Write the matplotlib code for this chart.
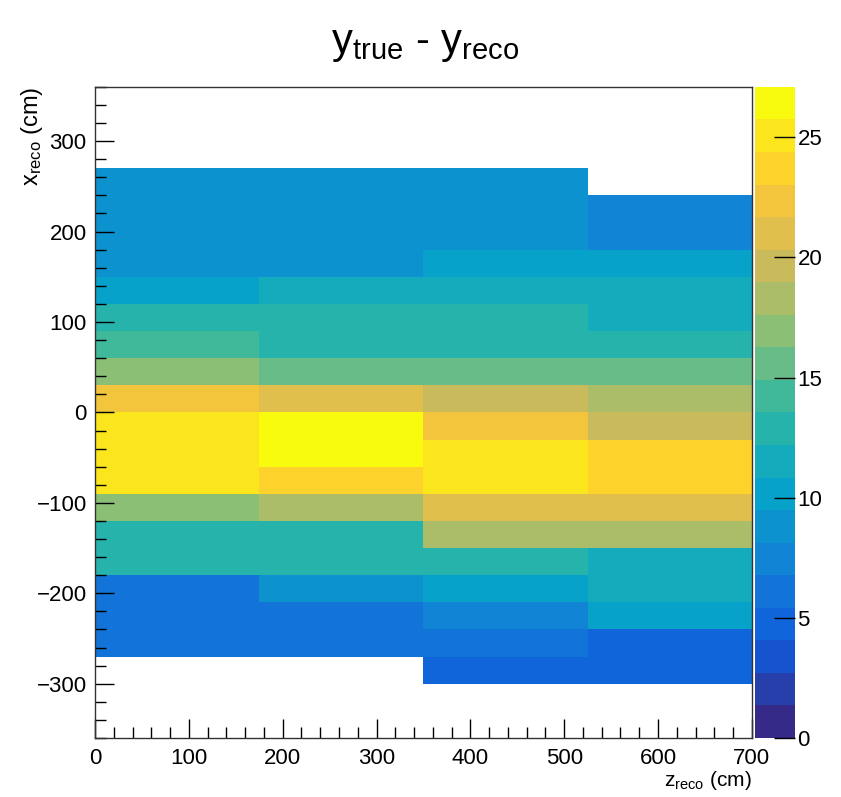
import numpy as np
import matplotlib
matplotlib.use("Agg")
import matplotlib.pyplot as plt
from matplotlib.colors import ListedColormap, LinearSegmentedColormap, BoundaryNorm

plt.rcParams["font.family"] = ["Liberation Sans", "DejaVu Sans"]
plt.rcParams["mathtext.fontset"] = "custom"
plt.rcParams["mathtext.rm"] = "Liberation Sans"
plt.rcParams["mathtext.it"] = "Liberation Sans"

# bin edges (cm)
z_edges = [0, 175, 350, 525, 700]
x_edges = list(range(-300, 271, 30))

# bin contents, one row per x_reco bin from -300 upwards, columns = z_reco bins
nan = np.nan
row_m300 = [nan, nan, 4.7, 4.7]
row_m270 = [6.1, 6.1, 6.1, 4.7]
row_m240 = [6.1, 6.1, 7.4, 9.8]
row_m210 = [6.1, 8.8, 9.8, 11.5]
row_m180 = [12.9, 12.9, 12.9, 11.5]
row_m150 = [12.9, 12.9, 18.3, 18.3]
row_m120 = [17.0, 18.3, 21.0, 21.0]
row_m90 = [25.0, 23.7, 25.0, 23.7]
row_m60 = [25.0, 27.1, 25.0, 23.7]
row_m30 = [25.0, 27.1, 22.4, 19.6]
row_0 = [22.4, 21.0, 19.6, 18.3]
row_30 = [17.0, 15.6, 15.6, 15.6]
row_60 = [14.2, 12.9, 12.9, 12.9]
row_90 = [12.9, 12.9, 12.9, 11.5]
row_120 = [9.8, 11.5, 11.5, 11.5]
row_150 = [8.8, 8.8, 9.8, 9.8]
row_180 = [8.8, 8.8, 8.8, 7.4]
row_210 = [8.8, 8.8, 8.8, 7.4]
row_240 = [8.8, 8.8, 8.8, nan]

values = np.array([
    row_m300, row_m270, row_m240, row_m210, row_m180, row_m150, row_m120,
    row_m90, row_m60, row_m30, row_0, row_30, row_60, row_90, row_120,
    row_150, row_180, row_210, row_240,
])

# ROOT kBird palette, 20 contour levels
stops = [0.0, 0.125, 0.25, 0.375, 0.5, 0.625, 0.75, 0.875, 1.0]
red = [0.2082, 0.0592, 0.0780, 0.0232, 0.1802, 0.5301, 0.8186, 0.9956, 0.9764]
green = [0.1664, 0.3599, 0.5041, 0.6419, 0.7178, 0.7492, 0.7328, 0.7862, 0.9832]
blue = [0.5293, 0.8684, 0.8385, 0.7914, 0.6425, 0.4662, 0.3499, 0.1968, 0.0539]
bird = LinearSegmentedColormap.from_list(
    "bird", [(s, (r, g, b)) for s, r, g, b in zip(stops, red, green, blue)])
n_cont = 20
cmap = ListedColormap([bird(k / (n_cont - 1)) for k in range(n_cont)])
cmap.set_bad("white")
zmax = np.nanmax(values)
norm = BoundaryNorm(np.linspace(0, zmax, n_cont + 1), n_cont)

fig = plt.figure(figsize=(8.41, 7.97), dpi=100)
ax = fig.add_axes([0.113, 0.074, 0.781, 0.817])
cax = fig.add_axes([0.898, 0.074, 0.047, 0.817])

mesh = ax.pcolormesh(z_edges, x_edges, np.ma.masked_invalid(values),
                     cmap=cmap, norm=norm)

ax.set_xlim(0, 700)
ax.set_ylim(-360, 360)
ax.set_xticks(range(0, 701, 100))
ax.set_xticks(range(0, 701, 20), minor=True)
ax.set_yticks(range(-300, 301, 100))
ax.set_yticks(range(-360, 361, 20), minor=True)
ax.tick_params(which="both", direction="in", top=False, right=False,
               labelsize=16, colors="black", width=1)
ax.tick_params(which="major", length=14)
ax.tick_params(axis="x", which="major", pad=7)
ax.tick_params(axis="y", which="major", pad=6)
ax.tick_params(which="minor", length=8)
for sp in ax.spines.values():
    sp.set_linewidth(1)
    sp.set_color("#333333")

ax.set_xlabel(r"$\mathregular{z_{reco}}$ (cm)", fontsize=15, loc="right")
ax.xaxis.set_label_coords(1.0, -0.048)
ax.set_ylabel(r"$\mathregular{x_{reco}}$ (cm)", fontsize=17, loc="top")
ax.yaxis.set_label_coords(-0.076, 1.0)

fig.text(0.505, 0.945, r"$\mathregular{y_{true}}$ - $\mathregular{y_{reco}}$",
         ha="center", va="center", fontsize=30)

cb = fig.colorbar(mesh, cax=cax, ticks=[0, 5, 10, 15, 20, 25])
cb.outline.set_visible(False)
cb.ax.tick_params(direction="in", length=15, width=1, labelsize=16,
                  right=True, left=False, pad=2)
cb.ax.minorticks_off()

fig.savefig("out.png", dpi=100)
